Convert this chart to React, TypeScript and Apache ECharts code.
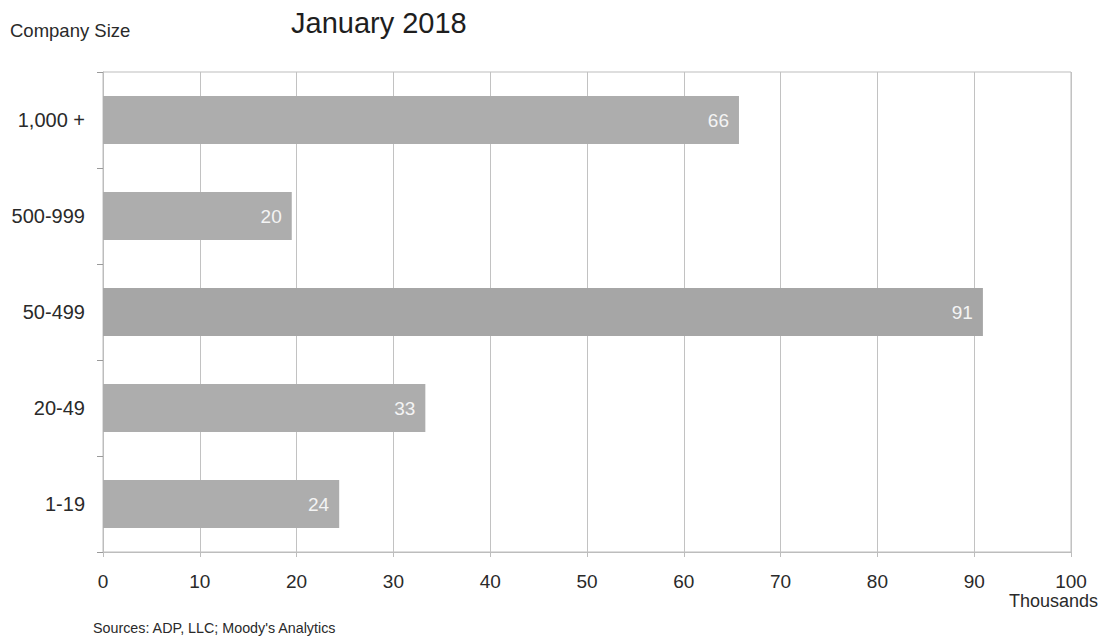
import React, { useEffect, useRef } from "react";
import * as echarts from "echarts";

const categories = ["1-19", "20-49", "50-499", "500-999", "1,000 +"];
const values = [24.4, 33.3, 90.9, 19.5, 65.7];
const barColors = ["#adadad", "#adadad", "#a6a6a6", "#adadad", "#adadad"];
const xTicks = [0, 10, 20, 30, 40, 50, 60, 70, 80, 90, 100];

const FONT = "Liberation Sans, Arial, sans-serif";

export default function App() {
  const ref = useRef<HTMLDivElement>(null);
  useEffect(() => {
    document.body.style.margin = "0";
    const chart = echarts.init(ref.current!, null, { renderer: "svg" });
    chart.setOption({
      animation: false,
      backgroundColor: "#ffffff",
      grid: {
        left: 103,
        right: 31,
        top: 72,
        bottom: 91,
        show: true,
        borderColor: "#bdbdbd",
        borderWidth: 1,
      },
      xAxis: {
        type: "value",
        min: xTicks[0],
        max: xTicks[xTicks.length - 1],
        interval: 10,
        axisLine: { show: true, lineStyle: { color: "#bdbdbd", width: 1 } },
        axisTick: { show: true, length: 5, lineStyle: { color: "#bdbdbd" } },
        splitLine: { show: true, lineStyle: { color: "#c2c2c2", width: 1 } },
        axisLabel: {
          color: "#2a2a2a",
          fontSize: 19,
          fontFamily: FONT,
          margin: 20,
        },
      },
      yAxis: {
        type: "category",
        data: categories,
        axisLine: { show: true, lineStyle: { color: "#bdbdbd", width: 1 } },
        axisTick: { show: true, length: 6, lineStyle: { color: "#9a9a9a" } },
        splitLine: { show: false },
        axisLabel: {
          color: "#2a2a2a",
          fontSize: 20,
          fontFamily: FONT,
          margin: 18,
        },
      },
      series: [
        {
          type: "bar",
          data: values.map((v, i) => ({ value: v, itemStyle: { color: barColors[i] } })),
          barWidth: 48,
          label: {
            show: true,
            position: "insideRight",
            distance: 10,
            color: "#f4f4f4",
            fontSize: 19,
            fontFamily: FONT,
            formatter: (p: any) => String(Math.round(p.value)),
          },
        },
      ],
      graphic: [
        {
          type: "text",
          left: 10,
          top: 21,
          style: {
            text: "Company Size",
            fontSize: 18.5,
            fontFamily: FONT,
            fill: "#2a2a2a",
          },
        },
        {
          type: "text",
          left: 291,
          top: 8,
          style: {
            text: "January 2018",
            fontSize: 29,
            fontFamily: FONT,
            fill: "#1e1e1e",
          },
        },
        {
          type: "text",
          right: 4,
          top: 592,
          style: {
            text: "Thousands",
            fontSize: 18,
            fontFamily: FONT,
            fill: "#2a2a2a",
          },
        },
        {
          type: "text",
          left: 93,
          top: 621,
          style: {
            text: "Sources: ADP, LLC; Moody's Analytics",
            fontSize: 14.3,
            fontFamily: FONT,
            fill: "#2a2a2a",
          },
        },
      ],
    });
    return () => chart.dispose();
  }, []);
  return (
    <div
      ref={ref}
      style={{ position: "absolute", left: 0, top: 0, width: 1102, height: 643 }}
    />
  );
}
